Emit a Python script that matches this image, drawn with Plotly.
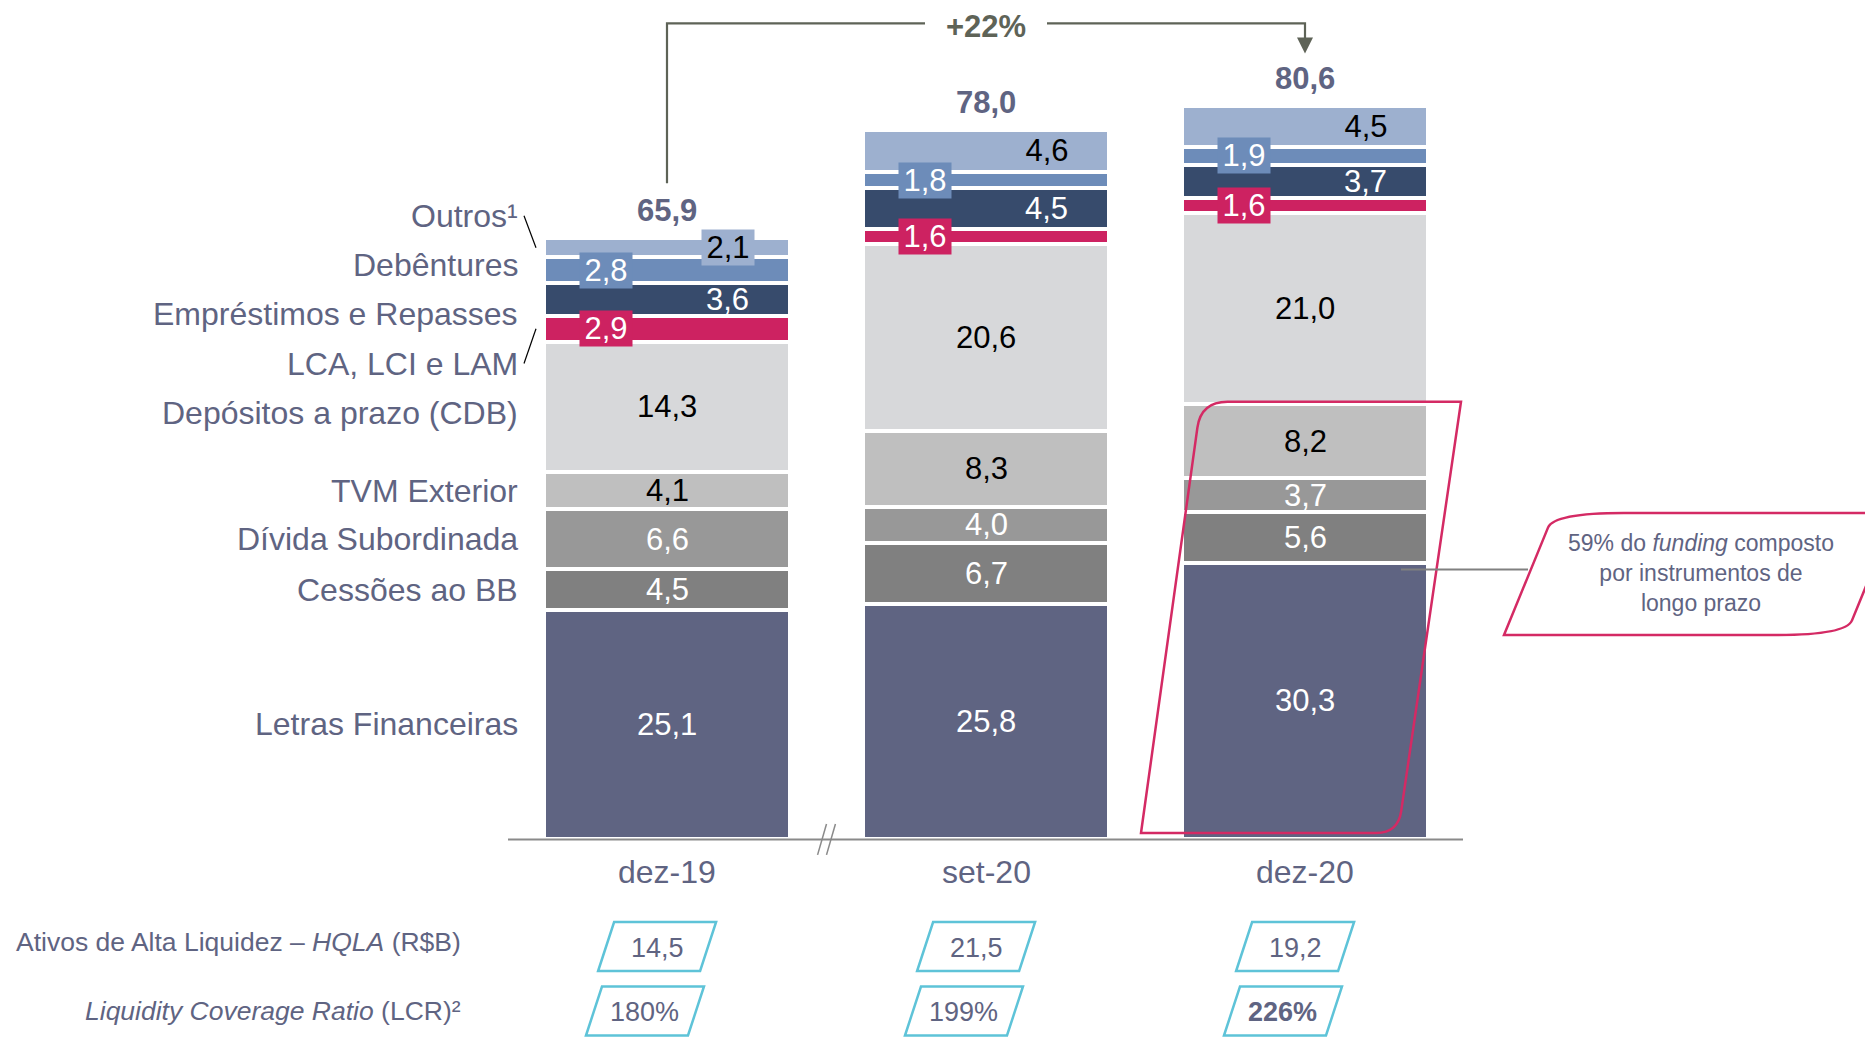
import plotly.graph_objects as go

# dados (R$ bilhões)
periodos = ['dez-19', 'set-20', 'dez-20']
letras_financeiras = [25.1, 25.8, 30.3]
cessoes_bb = [4.5, 6.7, 5.6]
divida_subordinada = [6.6, 4.0, 3.7]
tvm_exterior = [4.1, 8.3, 8.2]
depositos_prazo = [14.3, 20.6, 21.0]
lca_lci_lam = [2.9, 1.6, 1.6]
emprestimos_repasses = [3.6, 4.5, 3.7]
debentures = [2.8, 1.8, 1.9]
outros = [2.1, 4.6, 4.5]
totais = [65.9, 78.0, 80.6]
hqla = [14.5, 21.5, 19.2]
lcr = [180, 199, 226]
funding_longo_prazo = 59  # %

nomes = ['Letras Financeiras', 'Cessões ao BB', 'Dívida Subordinada', 'TVM Exterior',
         'Depósitos a prazo (CDB)', 'LCA, LCI e LAM', 'Empréstimos e Repasses',
         'Debêntures', 'Outros¹']
series = [letras_financeiras, cessoes_bb, divida_subordinada, tvm_exterior, depositos_prazo,
          lca_lci_lam, emprestimos_repasses, debentures, outros]
cores = ['#5f6482', '#808080', '#989898', '#bfbfbf', '#d7d8da',
         '#cd2261', '#374b6c', '#6d8cb9', '#9db0cf']

# estilo dos rótulos de valor
rot_cor = ['white', 'white', 'white', 'black', 'black', 'white', 'white', 'white', 'black']
rot_dx = [0, 0, 0, 0, 0, -0.19, 0.19, -0.19, 0.19]
rot_caixa = [False, False, False, False, False, True, False, True, True]

# geometria (pixels -> unidades)
W, H = 1865, 1037
X0, PX_X = 667, 319      # centro da 1a barra, px por categoria
Y0, PX_Y = 838.5, 9.095  # linha de base, px por R$ bi


def ux(p):
    return p / PX_X


def uy(p):
    return p / PX_Y


FONTE = 'Liberation Sans, Arial, sans-serif'
AZUL_TXT = '#5f6482'
CINZA_SETA = '#5e6357'
VERMELHO = '#d42a64'
CIANO = '#5ec3d8'
FS = 31
FS_ROT = 32


def fmt(v):
    return f'{v:.1f}'.replace('.', ',')


x = list(range(len(periodos)))
fig = go.Figure()
anots = []
shapes = []

base = [0.0] * len(x)
centros = []
for nome, vals, cor, tc, dx, caixa in zip(nomes, series, cores, rot_cor, rot_dx, rot_caixa):
    fig.add_trace(go.Bar(x=x, y=vals, name=nome, width=0.77, hoverinfo='skip',
                         marker=dict(color=cor, line=dict(color='white', width=4))))
    cs = []
    for i, v in enumerate(vals):
        c = base[i] + v / 2
        cs.append(c)
        a = dict(x=i + dx, y=c, text=fmt(v), showarrow=False,
                 font=dict(size=FS, color=tc), xanchor='center', yanchor='middle')
        if caixa:
            a.update(bgcolor=cor, width=52, borderpad=0)
        anots.append(a)
        base[i] += v
    centros.append(cs)

# totais
for i, t in enumerate(totais):
    anots.append(dict(x=i, y=base[i], text=f'<b>{fmt(t)}</b>', showarrow=False, yanchor='bottom',
                      yshift=8, font=dict(size=FS, color=AZUL_TXT)))

# rótulos das séries à esquerda
x_rot = ux(520 - X0)
y_rot = [centros[k][0] for k in range(4)]
y_topo, passo = 46.8, 5.42
y_rot += [y_topo + passo * k for k in range(5)]
for nome, yy in zip(nomes, y_rot):
    anots.append(dict(x=x_rot, y=yy, text=nome, showarrow=False, xanchor='right', yanchor='middle',
                      font=dict(size=FS_ROT, color=AZUL_TXT)))
# linhas guia (Outros e LCA)
for k in (8, 5):
    shapes.append(dict(type='line', x0=ux(524 - X0), y0=y_rot[k], x1=ux(536 - X0), y1=centros[k][0],
                       line=dict(color='black', width=1.2)))

# eixo x
shapes.append(dict(type='line', x0=ux(508 - X0), x1=ux(1463 - X0), y0=-0.1, y1=-0.1,
                   line=dict(color='#8a8a8a', width=2)))
for off in (-0.014, 0.014):
    shapes.append(dict(type='line', x0=0.5 + off - 0.014, y0=-1.8, x1=0.5 + off + 0.014, y1=1.6,
                       line=dict(color='#8a8a8a', width=1.5)))
for i, p in enumerate(periodos):
    anots.append(dict(x=i, y=-uy(872 - Y0), text=p, showarrow=False, yanchor='middle',
                      font=dict(size=FS_ROT, color=AZUL_TXT)))

# chave +22%
y_chave = uy(Y0 - 23.3)
y_esq = totais[0] + uy(56)
y_ponta = totais[2] + uy(52)
linha = dict(color=CINZA_SETA, width=2.2)
shapes.append(dict(type='path', path=f'M 0,{y_esq} L 0,{y_chave} L {1 - ux(61)},{y_chave}', line=linha))
shapes.append(dict(type='path', path=f'M {1 + ux(61)},{y_chave} L 2,{y_chave} L 2,{y_ponta + uy(14)}',
                   line=linha))
shapes.append(dict(type='path', path=f'M {2 - ux(8)},{y_ponta + uy(16)} L {2 + ux(8)},{y_ponta + uy(16)} '
                                      f'L 2,{y_ponta} Z', fillcolor=CINZA_SETA, line=dict(width=0)))
cresc = round((totais[2] / totais[0] - 1) * 100)
anots.append(dict(x=1, y=y_chave, text=f'<b>+{cresc}%</b>', showarrow=False, yanchor='middle', yshift=-3,
                  font=dict(size=FS, color=CINZA_SETA)))


def paralelogramo(bl, tl, tr, br, r1=0.0, r2=0.0):
    # cantos arredondados em TL e BR
    def mix(a, b, f):
        return (a[0] + (b[0] - a[0]) * f, a[1] + (b[1] - a[1]) * f)
    if r1:
        p1, p2 = mix(tl, bl, r1), mix(tl, tr, r1 * 1.7)
        s = f'M {bl[0]},{bl[1]} L {p1[0]},{p1[1]} Q {tl[0]},{tl[1]} {p2[0]},{p2[1]} L {tr[0]},{tr[1]}'
    else:
        s = f'M {bl[0]},{bl[1]} L {tl[0]},{tl[1]} L {tr[0]},{tr[1]}'
    if r2:
        p3, p4 = mix(br, tr, r2), mix(br, bl, r2 * 1.7)
        s += f' L {p3[0]},{p3[1]} Q {br[0]},{br[1]} {p4[0]},{p4[1]} Z'
    else:
        s += f' L {br[0]},{br[1]} Z'
    return s


# destaque: instrumentos de longo prazo em dez-20
cx = 2
topo = letras_financeiras[2] + cessoes_bb[2] + divida_subordinada[2] + tvm_exterior[2] + uy(2)
fundo = uy(5.5)
shapes.append(dict(type='path', line=dict(color=VERMELHO, width=2.5),
                   path=paralelogramo((cx - ux(164), fundo), (cx - ux(104), topo),
                                      (cx + ux(156), topo), (cx + ux(93), fundo), 0.06, 0.05)))

# callout
yb, yt = uy(Y0 - 635), uy(Y0 - 513)
shapes.append(dict(type='path', line=dict(color=VERMELHO, width=2.5),
                   path=paralelogramo((cx + ux(199), yb), (cx + ux(249), yt),
                                      (cx + ux(591), yt), (cx + ux(541), yb), 0.12, 0.12)))
y_con = letras_financeiras[2] - uy(6.6)
shapes.append(dict(type='line', x0=cx + ux(96), x1=cx + ux(223), y0=y_con, y1=y_con,
                   line=dict(color='#808080', width=2)))
anots.append(dict(x=cx + ux(396), y=uy(Y0 - 573), showarrow=False, align='center', yanchor='middle',
                  text=f'{funding_longo_prazo}% do <i>funding</i> composto<br>por instrumentos de<br>longo prazo',
                  font=dict(size=23, color=AZUL_TXT)))

# linhas de HQLA e LCR
FS2 = 26.5
x_lin = ux(463 - X0)
y_hqla, y_lcr = -uy(946.5 - Y0), -uy(1011 - Y0)
anots.append(dict(x=x_lin, y=-uy(942 - Y0), text='Ativos de Alta Liquidez – <i>HQLA</i> (R$B)', showarrow=False,
                  xanchor='right', yanchor='middle', font=dict(size=FS2, color=AZUL_TXT)))
anots.append(dict(x=x_lin, y=y_lcr, text='<i>Liquidity Coverage Ratio</i> (LCR)²', showarrow=False,
                  xanchor='right', yanchor='middle', font=dict(size=FS2, color=AZUL_TXT)))
hw, hh, sl = ux(51), uy(24.5), ux(8)
for i in x:
    for cy, dxc, txt, negrito in ((y_hqla, -0.031, fmt(hqla[i]), False),
                                  (y_lcr, -0.069, f'{lcr[i]}%', i == len(x) - 1)):
        c0 = i + dxc
        shapes.append(dict(type='path', line=dict(color=CIANO, width=2.5), fillcolor='white',
                           path=paralelogramo((c0 - hw - sl, cy - hh), (c0 - hw + sl, cy + hh),
                                              (c0 + hw + sl, cy + hh), (c0 + hw - sl, cy - hh))))
        anots.append(dict(x=c0, y=cy, text=f'<b>{txt}</b>' if negrito else txt, showarrow=False,
                          yanchor='middle', yshift=-1, font=dict(size=27, color=AZUL_TXT)))

fig.update_layout(
    width=W, height=H, margin=dict(l=0, r=0, t=0, b=0),
    barmode='stack', showlegend=False,
    plot_bgcolor='white', paper_bgcolor='white',
    font=dict(family=FONTE),
    xaxis=dict(range=[-X0 / PX_X, (W - X0) / PX_X], visible=False),
    yaxis=dict(range=[-(H - Y0) / PX_Y, Y0 / PX_Y], visible=False),
    annotations=anots, shapes=shapes,
)

fig.write_html('out.html', config={'displayModeBar': False},
               post_script="document.body.style.margin='0';document.body.style.overflow='hidden';")
